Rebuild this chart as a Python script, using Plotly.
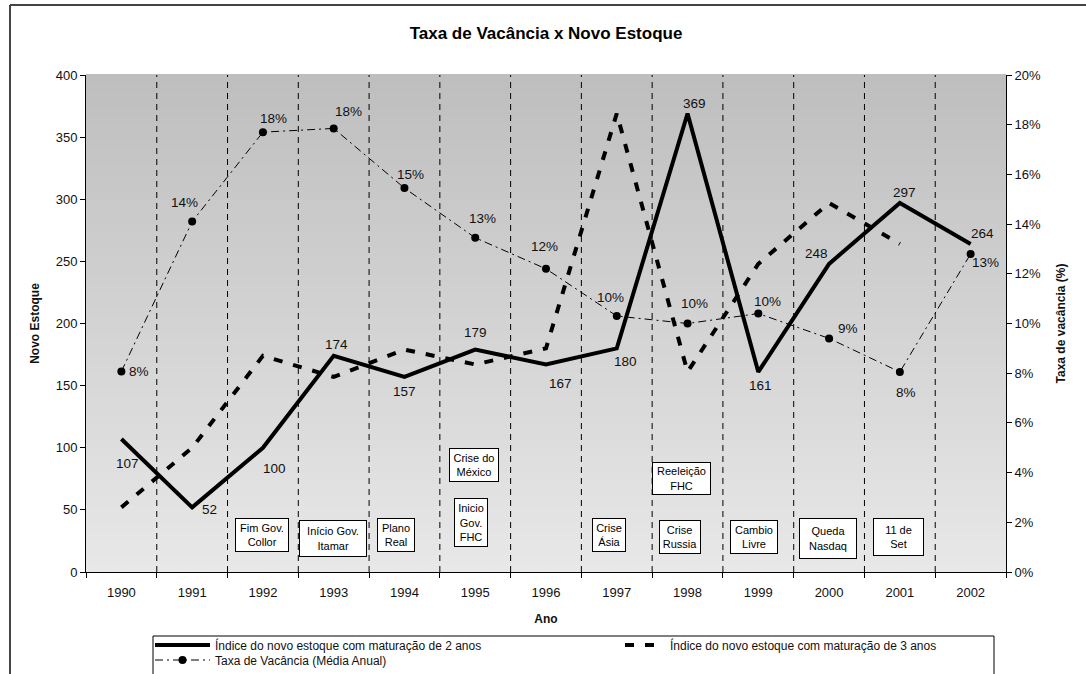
import plotly.graph_objects as go

# ---------------- data ----------------
anos = list(range(1990, 2003))
estoque_2anos = [107, 52, 100, 174, 157, 179, 167, 180, 369, 161, 248, 297, 264]
estoque_3anos = [52, 100, 174, 157, 179, 167, 180, 369, 161, 248, 297, 264, None]
vacancia = [8.07, 14.1, 17.7, 17.85, 15.45, 13.45, 12.2, 10.3, 10.0, 10.4, 9.4, 8.05, 12.8]

eventos = ["Fim Gov.<br>Collor", "Início Gov.<br>Itamar", "Plano<br>Real",
           "Inicio<br>Gov.<br>FHC", "Crise do<br>México", "Crise<br>Ásia",
           "Reeleição<br>FHC", "Crise<br>Russia", "Cambio<br>Livre",
           "Queda<br>Nasdaq", "11 de<br>Set"]

# ---------------- layout helpers ----------------
L, R, T, B = 86, 1006, 75, 572
W, H = 1086, 674


def px(x):
    return (x - L) / (R - L)


def py(y):
    return (B - y) / (B - T)


FONT = "Arial, Liberation Sans, sans-serif"

# label offsets in pixels (dx right, dy down) relative to each point
off_2anos = [(6, 24), (17, 2), (12, 21), (3, -11), (0, 15), (0, -17), (14, 19),
             (9, 13), (7, -10), (2, 14), (-13, -10), (5, -10), (12, -10)]
off_vac = [(18, 0), (-8, -19), (11, -14), (15, -17), (6, -14), (7, -19), (-2, -22),
           (-6, -19), (7, -20), (9, -12), (19, -10), (6, 21), (15, 9)]

fig = go.Figure()

fig.add_trace(go.Scatter(
    x=anos, y=estoque_2anos, mode="lines",
    name="Índice do novo estoque com maturação de 2 anos",
    line=dict(color="black", width=4), legend="legend",
))
fig.add_trace(go.Scatter(
    x=anos, y=estoque_3anos, mode="lines",
    name="Índice do novo estoque com maturação de 3 anos",
    line=dict(color="black", width=4, dash="9px,11px"),
    legend="legend2",
))
fig.add_trace(go.Scatter(
    x=anos, y=vacancia, mode="lines+markers", yaxis="y2",
    name="Taxa de Vacância (Média Anual)",
    line=dict(color="black", width=1, dash="8px,4px,2px,4px"),
    marker=dict(color="black", size=8),
    legend="legend3",
))

shapes = []
# gradient background of plot area
N = 60
top_c = (190, 190, 190)
bot_c = (232, 232, 232)
for i in range(N):
    t = (i + 0.5) / N
    c = tuple(round(bot_c[k] + (top_c[k] - bot_c[k]) * t) for k in range(3))
    shapes.append(dict(type="rect", xref="x domain", yref="y domain",
                       x0=0, x1=1, y0=i / N, y1=(i + 1) / N + 0.002,
                       fillcolor="rgb(%d,%d,%d)" % c, line=dict(width=0), layer="below"))
# dashed separators between years
for a in anos[:-1]:
    shapes.append(dict(type="line", xref="x", yref="y domain", x0=a + 0.5, x1=a + 0.5,
                       y0=0, y1=1, line=dict(color="black", width=1, dash="6px,5px"),
                       layer="below"))
# outer frame
shapes.append(dict(type="line", xref="paper", yref="paper", x0=px(10), x1=px(1086),
                   y0=py(5), y1=py(5), line=dict(color="#444", width=2)))
shapes.append(dict(type="line", xref="paper", yref="paper", x0=px(10), x1=px(10),
                   y0=py(5), y1=py(676), line=dict(color="#444", width=2)))
# legend box
shapes.append(dict(type="rect", xref="paper", yref="paper", x0=px(153), x1=px(994),
                   y0=py(636), y1=py(680), line=dict(color="black", width=1),
                   fillcolor="white", layer="below"))

annotations = []
# data labels
for a, v, (dx, dy) in zip(anos, estoque_2anos, off_2anos):
    annotations.append(dict(x=a, y=v, xref="x", yref="y", text=str(v), showarrow=False,
                            xshift=dx, yshift=-dy,
                            font=dict(family=FONT, size=13.5, color="#111")))
for a, v, (dx, dy) in zip(anos, vacancia, off_vac):
    annotations.append(dict(x=a, y=v, xref="x", yref="y2", text="%.0f%%" % v,
                            showarrow=False, xshift=dx, yshift=-dy,
                            font=dict(family=FONT, size=13.5, color="#111")))

# event boxes (centre x in years, centre y in index units, width, height in px)
box_geom = [(1991.99, 30, 50, 30), (1992.99, 27, 64, 33), (1993.88, 30, 34, 30),
            (1994.94, 40, 30, 45), (1994.98, 86, 46, 30), (1996.89, 30, 30, 30),
            (1997.91, 75, 55, 29), (1997.90, 28, 38, 30), (1998.94, 28, 44, 30),
            (1999.98, 27, 54, 37), (2000.98, 28, 47, 34)]
for txt, (bx, by, bw, bh) in zip(eventos, box_geom):
    annotations.append(dict(x=bx, y=by, xref="x", yref="y", text=txt, showarrow=False,
                            font=dict(family=FONT, size=11, color="black"),
                            bgcolor="white", bordercolor="black", borderwidth=1,
                            borderpad=1, width=bw, height=bh, align="center",
                            valign="middle"))

fig.update_layout(
    width=W, height=H,
    margin=dict(l=L, r=W - R, t=T, b=H - B, autoexpand=False),
    paper_bgcolor="white", plot_bgcolor="rgba(0,0,0,0)",
    font=dict(family=FONT, size=13, color="#111"),
    title=dict(text="<b>Taxa de Vacância x Novo Estoque</b>", x=0.5, xref="paper",
               y=1 - 33 / H, yanchor="middle", font=dict(family=FONT, size=17, color="black")),
    xaxis=dict(range=[1989.5, 2002.5], tickmode="array", tickvals=anos,
               ticktext=[str(a) for a in anos], ticks="", showgrid=False, zeroline=False,
               showline=True, linecolor="black", linewidth=1, ticklabelstandoff=8,
               minor=dict(tick0=1989.5, dtick=1, ticks="outside", ticklen=5,
                          tickcolor="black", showgrid=False),
               tickfont=dict(size=13),
               title=dict(text="<b>Ano</b>", font=dict(size=12), standoff=16)),
    yaxis=dict(range=[0, 400], dtick=50, ticks="outside", ticklen=5, tickcolor="black",
               showgrid=False, zeroline=False, showline=True, linecolor="black",
               linewidth=1, tickfont=dict(size=13),
               title=dict(text="<b>Novo Estoque</b>", font=dict(size=12), standoff=13)),
    yaxis2=dict(range=[0, 20], dtick=2, ticksuffix="%", overlaying="y", side="right",
                ticks="outside", ticklen=5, tickcolor="black", showgrid=False,
                zeroline=False, showline=True, linecolor="black", linewidth=1,
                tickfont=dict(size=13),
                title=dict(text="<b>Taxa de vacância (%)</b>", font=dict(size=12),
                           standoff=16)),
    legend=dict(x=px(150), y=py(645), xanchor="left", yanchor="middle",
                bgcolor="rgba(0,0,0,0)", font=dict(size=12), itemwidth=55),
    legend2=dict(x=px(620), y=py(645), xanchor="left", yanchor="middle",
                 bgcolor="rgba(0,0,0,0)", font=dict(size=12), itemwidth=40),
    legend3=dict(x=px(150), y=py(660), xanchor="left", yanchor="middle",
                 bgcolor="rgba(0,0,0,0)", font=dict(size=12), itemwidth=55),
    shapes=shapes, annotations=annotations, showlegend=True,
)

fig.write_html("out.html", config={"displayModeBar": False},
               post_script="document.body.style.margin='0';document.body.style.overflow='hidden';")
